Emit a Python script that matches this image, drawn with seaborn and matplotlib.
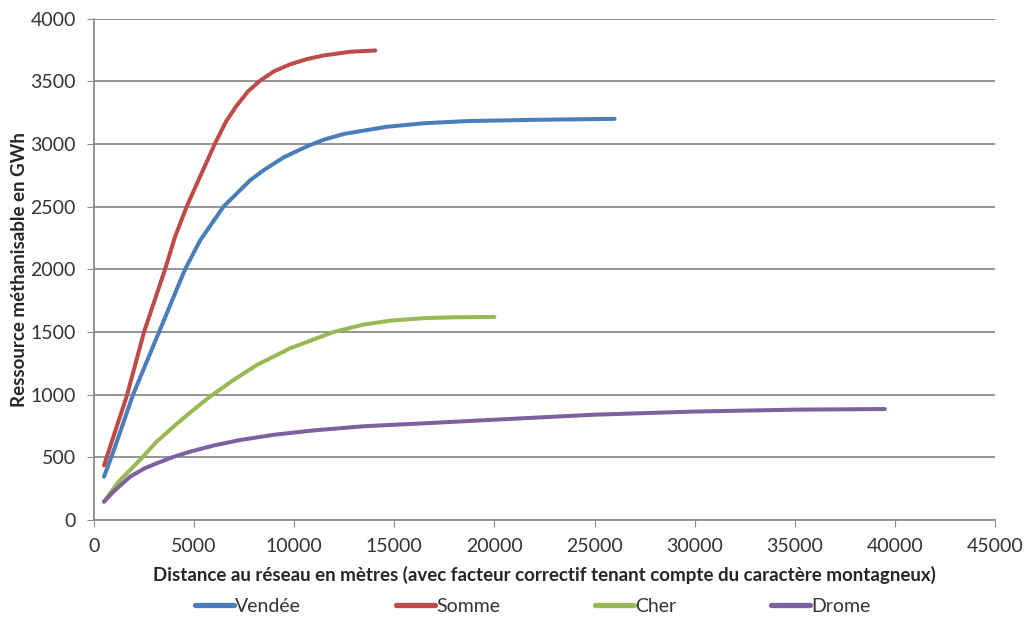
import pandas as pd
import matplotlib.pyplot as plt
import seaborn as sns

# distances (m) and resource (GWh)
vendee_x = [500, 1000, 1950, 3250, 4550, 5300, 6470, 7800, 8470, 9500, 10630, 11500, 12500, 14600, 16500, 18630, 22000, 26000]
vendee_y = [345, 560, 1000, 1500, 2000, 2230, 2500, 2710, 2790, 2895, 2980, 3035, 3080, 3136, 3165, 3182, 3192, 3200]

somme_x = [500, 1000, 1630, 2500, 3550, 4050, 4630, 5300, 6050, 6600, 7100, 7700, 8300, 9000, 9800, 10600, 11450, 12800, 14050]
somme_y = [435, 680, 985, 1500, 2000, 2260, 2500, 2740, 3005, 3180, 3300, 3420, 3505, 3580, 3635, 3675, 3705, 3735, 3745]

cher_x = [500, 1200, 2300, 3100, 3970, 4900, 5800, 7000, 8130, 9800, 11970, 13500, 14800, 16500, 18000, 20000]
cher_y = [146, 300, 480, 620, 745, 870, 985, 1120, 1236, 1370, 1500, 1560, 1590, 1610, 1617, 1620]

drome_x = [500, 1000, 1800, 2500, 3130, 4000, 4800, 6000, 7300, 9000, 11000, 13500, 16470, 20000, 25000, 30000, 35000, 39500]
drome_y = [146, 230, 345, 410, 452, 505, 545, 595, 638, 680, 715, 748, 771, 800, 840, 865, 880, 885]

series = ['Vendée', 'Somme', 'Cher', 'Drome']
colors = ['#4a7ebb', '#be4b48', '#98b954', '#7d60a0']

frames = []
for name, xs, ys in zip(series, [vendee_x, somme_x, cher_x, drome_x], [vendee_y, somme_y, cher_y, drome_y]):
    frames.append(pd.DataFrame({'dist': xs, 'res': ys, 'dep': name}))
df = pd.concat(frames, ignore_index=True)

sns.set_style('white')
plt.rcParams['font.family'] = ['Lato', 'DejaVu Sans']

fig, ax = plt.subplots(figsize=(10.25, 6.18), dpi=100)
fig.subplots_adjust(left=0.0917, right=0.9707, top=0.970, bottom=0.1586)

sns.lineplot(data=df, x='dist', y='res', hue='dep', palette=colors, hue_order=series,
             sort=False, linewidth=2.9, ax=ax, legend=False)
for ln in ax.get_lines():
    ln.set_solid_capstyle('round')
    ln.set_solid_joinstyle('round')

ax.set_xlim(0, 45000)
ax.set_ylim(0, 4000)
ax.set_xticks(range(0, 45001, 5000))
ax.set_yticks(range(0, 4001, 500))
ax.yaxis.grid(True, color='#8c8c8c', linewidth=1.3)
ax.set_axisbelow(True)
for s in ['top', 'right']:
    ax.spines[s].set_visible(False)
for s in ['left', 'bottom']:
    ax.spines[s].set_color('#8c8c8c')
    ax.spines[s].set_linewidth(1.3)
ax.tick_params(axis='both', which='both', direction='out', length=5, color='#8c8c8c',
               labelsize=14, labelcolor='#333333', left=True, bottom=True, pad=8)

ax.set_xlabel('Distance au réseau en mètres (avec facteur correctif tenant compte du caractère montagneux)',
              fontsize=13.5, fontweight='bold', labelpad=8)
ax.set_ylabel('Ressource méthanisable en GWh', fontsize=13.5, fontweight='bold', labelpad=2)

handles = [plt.Line2D([0], [0], color=c, linewidth=3.8, solid_capstyle='round') for c in colors]
ax.legend(handles, series, loc='center', bbox_to_anchor=(0.104, -0.173, 0.766, 0),
          mode='expand', ncol=4, frameon=False, fontsize=14, handlelength=2.0,
          handletextpad=0.05, borderaxespad=0, labelcolor='#333333')

plt.savefig('out.png', dpi=100)
